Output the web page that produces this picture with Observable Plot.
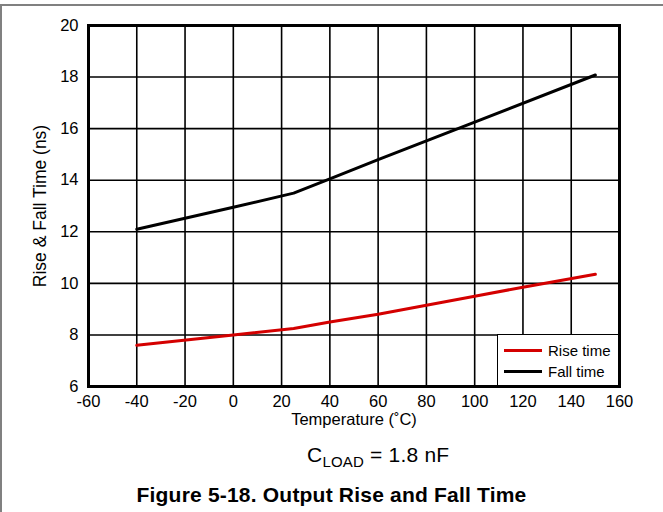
<!DOCTYPE html>
<html>
<head>
<meta charset="utf-8">
<script src="https://cdn.jsdelivr.net/npm/d3@7"></script>
<script src="https://cdn.jsdelivr.net/npm/@observablehq/plot@0.6"></script>
<style>
  html, body { margin: 0; padding: 0; background: #fff; }
  body { width: 663px; height: 512px; position: relative; overflow: hidden; font-family: "Liberation Sans", Arial, sans-serif; }
  #topline { position: absolute; left: 0; top: 4px; width: 663px; height: 2px; background: #808080; }
  #leftline { position: absolute; left: 0; top: 4px; width: 2px; height: 508px; background: #808080; }
  #chart { position: absolute; left: 0; top: 0; }
  #legend { position: absolute; left: 497px; top: 334px; width: 120px; height: 50px; background: #fff; border: 1.5px solid #000; box-sizing: content-box; font-size: 15px; }
  .lg { position: absolute; left: 6px; height: 20px; display: flex; align-items: center; }
  .sw { width: 38px; height: 3px; margin-right: 6px; }
  #cload { position: absolute; left: 307px; top: 444px; white-space: nowrap; font-size: 21px; line-height: 1; letter-spacing: 0.2px; }
  #cload sub { font-size: 15px; vertical-align: -5px; line-height: 1; }
  #fig { position: absolute; left: 0; width: 663px; top: 484px; text-align: center; font-size: 21px; font-weight: bold; line-height: 1; letter-spacing: 0.2px; }
</style>
</head>
<body>
<div id="chart"></div>
<div id="topline"></div>
<div id="leftline"></div>
<div id="legend">
  <div class="lg" style="top:5px"><div class="sw" style="background:#d40000"></div>Rise time</div>
  <div class="lg" style="top:26px"><div class="sw" style="background:#000"></div>Fall time</div>
</div>
<div id="cload">C<sub>LOAD</sub> = 1.8 nF</div>
<div id="fig">Figure 5-18. Output Rise and Fall Time</div>
<script>
const riseTemp = [-40, 0, 25, 40, 60, 80, 100, 120, 150];
const riseTime = [7.6, 8.0, 8.25, 8.5, 8.8, 9.15, 9.5, 9.85, 10.35];
const fallTemp = [-40, 0, 25, 40, 60, 100, 150];
const fallTime = [12.1, 12.95, 13.5, 14.05, 14.8, 16.25, 18.08];
const xTicks = [-60, -40, -20, 0, 20, 40, 60, 80, 100, 120, 140, 160];
const yTicks = [6, 8, 10, 12, 14, 16, 18, 20];
const xTitle = "Temperature (˚C)";
const yTitle = "Rise & Fall Time (ns)";

const rise = riseTemp.map((t, i) => ({t, v: riseTime[i]}));
const fall = fallTemp.map((t, i) => ({t, v: fallTime[i]}));
const fmt = d => String(d);

const chart = Plot.plot({
  width: 663,
  height: 436,
  marginLeft: 88,
  marginRight: 44,
  marginTop: 25,
  marginBottom: 50,
  style: {fontFamily: "Liberation Sans, Arial, sans-serif", color: "#000", background: "transparent"},
  x: {domain: [-60, 160], axis: null},
  y: {domain: [6, 20], axis: null},
  marks: [
    Plot.ruleX(xTicks, {stroke: "#000", strokeWidth: 1.6}),
    Plot.ruleY(yTicks, {stroke: "#000", strokeWidth: 1.6}),
    Plot.axisX({ticks: xTicks, tickFormat: fmt, tickSize: 0, tickPadding: 9, fontSize: 16.5, label: null, fill: "#000"}),
    Plot.axisY({ticks: yTicks, tickFormat: fmt, tickSize: 0, tickPadding: 10, fontSize: 16.5, label: null, fill: "#000"}),
    Plot.text([xTitle], {frameAnchor: "bottom", lineAnchor: "top", textAnchor: "middle", dy: 27, fontSize: 16.5, fill: "#000"}),
    Plot.text([yTitle], {frameAnchor: "left", textAnchor: "middle", rotate: -90, dx: -48, fontSize: 17.5, fill: "#000"}),
    Plot.line(rise, {x: "t", y: "v", stroke: "#d40000", strokeWidth: 3}),
    Plot.line(fall, {x: "t", y: "v", stroke: "#000", strokeWidth: 3}),
    Plot.frame({stroke: "#000", strokeWidth: 3})
  ]
});
document.getElementById("chart").appendChild(chart);
</script>
</body>
</html>
